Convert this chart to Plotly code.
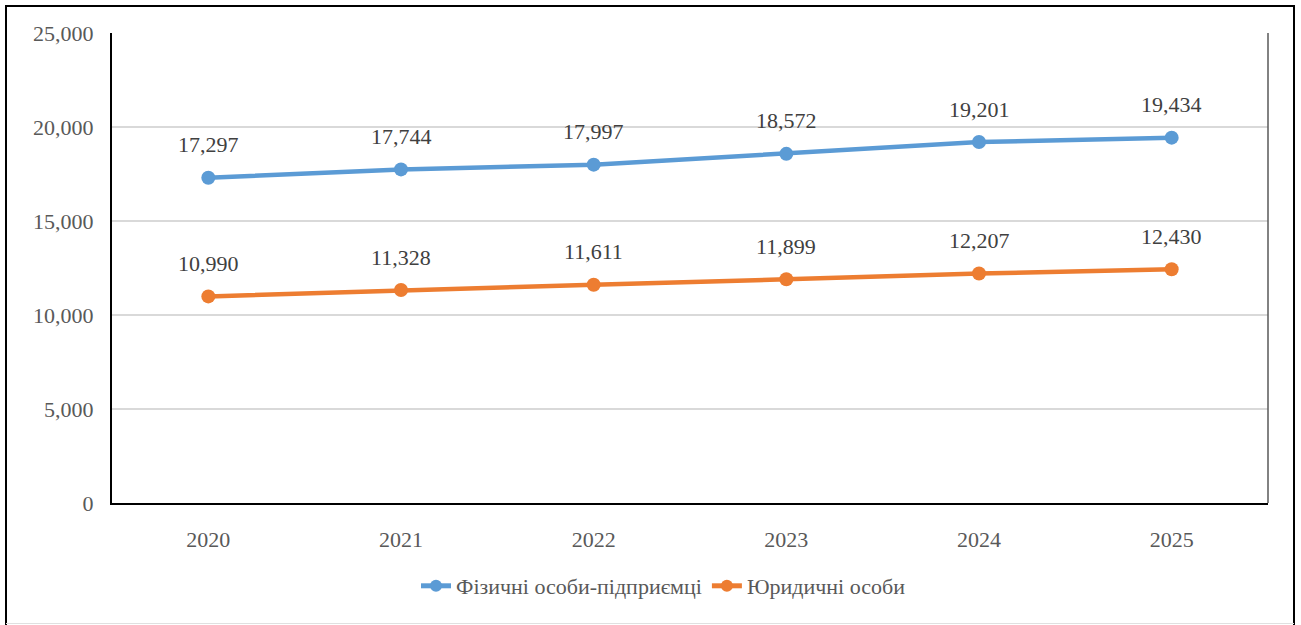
import plotly.graph_objects as go

years = ["2020", "2021", "2022", "2023", "2024", "2025"]
fop = [17297, 17744, 17997, 18572, 19201, 19434]
legal = [10990, 11328, 11611, 11899, 12207, 12430]
series_names = ["Фізичні особи-підприємці", "Юридичні особи"]
colors = ["#5B9BD5", "#ED7D31"]
y_ticks = [0, 5000, 10000, 15000, 20000, 25000]

W, H = 1301, 625
L, R, T, B = 112, 33, 33, 122
pw, ph = W - L - R, H - T - B

FONT = "'Liberation Serif', 'Times New Roman', serif"
LEG_FONT = "'Liberation Serif', 'DejaVu Serif', serif"

fig = go.Figure()
for name, vals, col in zip(series_names, [fop, legal], colors):
    fig.add_trace(go.Scatter(
        x=years, y=vals, name=name, mode="lines+markers",
        line=dict(color=col, width=4.5),
        marker=dict(color=col, size=14, symbol="circle"),
    ))
    for i, yv in enumerate(vals):
        fig.add_annotation(x=i, y=yv, xref="x", yref="y", text=f"{yv:,}", showarrow=False,
                           yshift=33, font=dict(family=FONT, size=22, color="#404040"))

def px_x(p):
    return (p - L) / pw

def px_y(p):
    return 1 - (p - T) / ph

# outer border
fig.add_shape(type="rect", xref="paper", yref="paper",
              x0=px_x(6), x1=px_x(1294), y0=px_y(650), y1=px_y(6),
              line=dict(color="black", width=2), fillcolor="rgba(0,0,0,0)", layer="above")
fig.add_shape(type="line", xref="paper", yref="paper",
              x0=px_x(6), x1=px_x(1294), y0=px_y(623.5), y1=px_y(623.5),
              line=dict(color="#E0E0E0", width=1), layer="above")
# right border of plot area
fig.add_shape(type="line", xref="paper", yref="paper",
              x0=1, x1=1, y0=0, y1=1, line=dict(color="#595959", width=1.5))

fig.update_layout(
    width=W, height=H,
    margin=dict(l=L, r=R, t=T, b=B),
    paper_bgcolor="white", plot_bgcolor="white",
    font=dict(family=FONT, size=22, color="#595959"),
    showlegend=True,
    legend=dict(orientation="h", xref="container", yref="container",
                x=0.51, y=1 - 586 / H, xanchor="center", yanchor="middle",
                font=dict(family=LEG_FONT, size=22, color="#595959"),
                itemsizing="constant", itemwidth=30),
    xaxis=dict(type="category", range=[-0.5, 5.5], showgrid=False,
               showline=True, linecolor="black", linewidth=2,
               ticks="", ticklabelstandoff=16,
               tickfont=dict(family=FONT, size=22, color="#595959")),
    yaxis=dict(range=[0, 25000], tickvals=y_ticks, tickformat=",d",
               showgrid=True, gridcolor="#D9D9D9", gridwidth=1.5,
               showline=True, linecolor="black", linewidth=2,
               zeroline=False, ticks="", ticklabelstandoff=12,
               tickfont=dict(family=FONT, size=22, color="#595959")),
)

fig.write_html("out.html", config={"displayModeBar": False},
               post_script="document.body.style.margin='0';document.body.style.padding='0';")
